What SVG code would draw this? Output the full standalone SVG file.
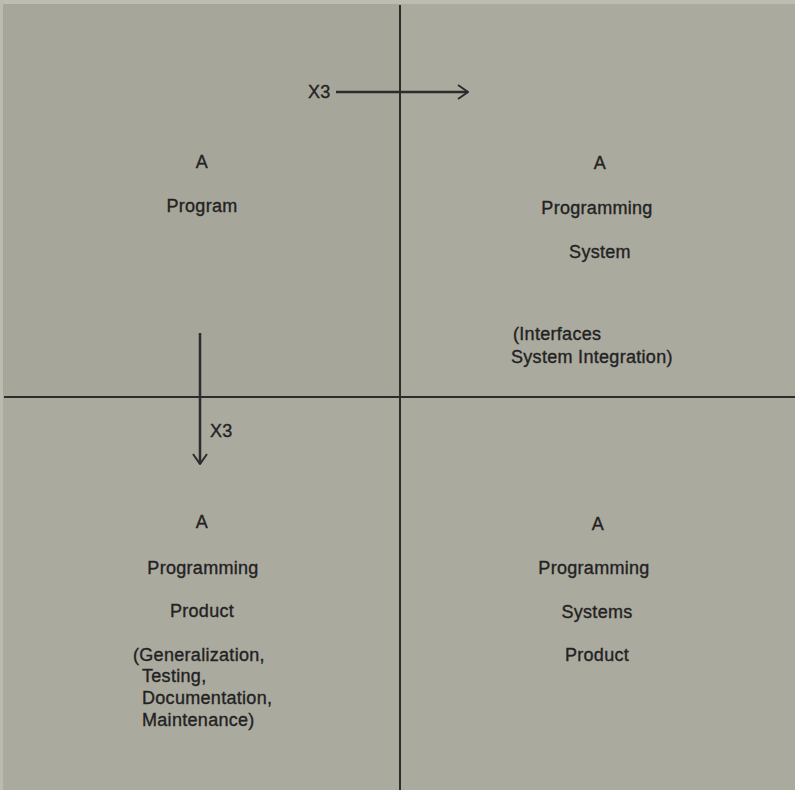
<svg xmlns="http://www.w3.org/2000/svg" width="795" height="790" viewBox="0 0 795 790">
<style>
.t{font-family:"Liberation Sans",Arial,sans-serif;font-size:18px;fill:#232222;stroke:#232222;stroke-width:0.35;letter-spacing:0.3px}
.c{text-anchor:middle}
.ln{stroke:#2e2b2d;stroke-width:2;fill:none}
.ar{stroke:#2e2b2d;stroke-width:2.5;fill:none}
</style>
<defs>
<marker id="chev" viewBox="0 0 12 16" refX="11" refY="8" markerWidth="12" markerHeight="16" markerUnits="userSpaceOnUse" orient="auto">
<path d="M1,1 L11,8 L1,15" fill="none" stroke="#2e2b2d" stroke-width="2"/>
</marker>
</defs>
<rect x="0" y="0" width="795" height="790" fill="#aaaa9f"/>
<rect x="0" y="0" width="400" height="397" fill="#a6a69b"/>
<rect x="0" y="0" width="795" height="4" fill="#bebdb0"/>
<rect x="0" y="0" width="3" height="790" fill="#bcbbae"/>
<g id="connectors">
<line class="ln" x1="400" y1="5" x2="400" y2="790"/>
<line class="ln" x1="4" y1="397" x2="795" y2="397"/>
<line class="ar" x1="336" y1="92" x2="468" y2="92" marker-end="url(#chev)"/>
<line class="ar" x1="200" y1="333" x2="200" y2="464" marker-end="url(#chev)"/>
<text class="t" x="308" y="98">X3</text>
<text class="t" x="210" y="437">X3</text>
</g>
<g id="program">
<text class="t c" x="202" y="168">A</text>
<text class="t c" x="202" y="212">Program</text>
</g>
<g id="programming-system">
<text class="t c" x="600" y="169">A</text>
<text class="t c" x="597" y="214">Programming</text>
<text class="t c" x="600" y="258">System</text>
<text class="t" x="513" y="340">(Interfaces</text>
<text class="t" x="511" y="363">System Integration)</text>
</g>
<g id="programming-product">
<text class="t c" x="202" y="528">A</text>
<text class="t c" x="203" y="574">Programming</text>
<text class="t c" x="202" y="617">Product</text>
<text class="t" x="133" y="661">(Generalization,</text>
<text class="t" x="142" y="682">Testing,</text>
<text class="t" x="142" y="704">Documentation,</text>
<text class="t" x="142" y="726">Maintenance)</text>
</g>
<g id="programming-systems-product">
<text class="t c" x="598" y="530">A</text>
<text class="t c" x="594" y="574">Programming</text>
<text class="t c" x="597" y="618">Systems</text>
<text class="t c" x="597" y="661">Product</text>
</g>
</svg>
